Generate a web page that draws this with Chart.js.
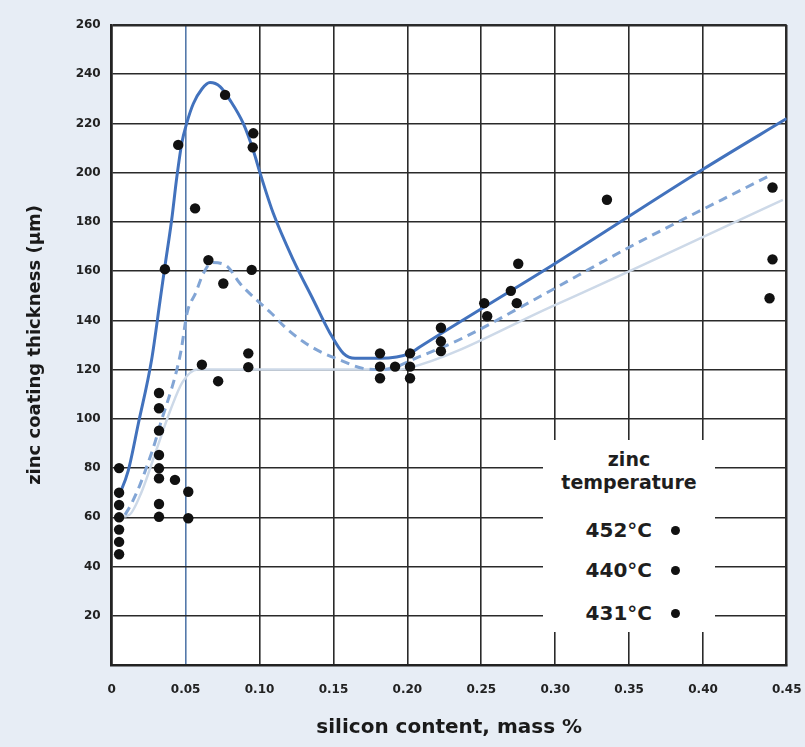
<!DOCTYPE html>
<html><head><meta charset="utf-8">
<script src="https://cdn.jsdelivr.net/npm/chart.js@4.4.1/dist/chart.umd.min.js"></script>
<style>
html,body{margin:0;padding:0;background:#e7edf5;}
#wrap{position:relative;width:805px;height:747px;}
#legend{position:absolute;left:543px;top:440px;width:172px;height:192px;background:#fff;font-family:'DejaVu Sans',sans-serif;font-weight:bold;color:#1e1e1e;}
#legend .h{position:absolute;left:0;width:172px;text-align:center;font-size:19px;line-height:23px;}
#legend .row{position:absolute;left:0;width:109px;text-align:right;font-size:20px;line-height:24px;}
#legend .dot{position:absolute;width:9px;height:9px;border-radius:50%;background:#111;}
</style></head>
<body>
<div id="wrap"><canvas id="c"></canvas>
<div id="legend">
  <div class="h" style="top:8px">zinc</div>
  <div class="h" style="top:31px">temperature</div>
  <div class="row" style="top:78px">452°C</div><div class="dot" style="left:128px;top:86px"></div>
  <div class="row" style="top:118px">440°C</div><div class="dot" style="left:128px;top:126px"></div>
  <div class="row" style="top:161px">431°C</div><div class="dot" style="left:128px;top:169px"></div>
</div>
</div>
<script>
// ---- tick labels ----
const xTickLabels = ['0','0.05','0.10','0.15','0.20','0.25','0.30','0.35','0.40','0.45'];
const yTickLabels = ['20','40','60','80','100','120','140','160','180','200','220','240','260'];
const X_AXIS_END = 0.4566; // right frame of the printed plot (labelled 0.45)

// ---- 452 °C curve (solid) ----
const curve452X = [0.0045,0.0112,0.018,0.027,0.0327,0.036,0.0406,0.044,0.0474,0.0507,0.0552,0.061,0.0665,0.0733,0.08,0.089,0.0958,0.1003,0.1093,0.1229,0.1364,0.1477,0.1567,0.1646,0.1815,0.2018,0.2086,0.297,0.40,0.4566];
const curve452Y = [68,79,98,124,148,162,181,198,212,220,228,234,236.6,235,229.5,220,209,200,183.5,164.5,148.3,134.8,126.6,124.6,124.6,126.6,129.3,162,201.4,222];

// ---- 440 °C curve (dashed) ----
const curve440X = [0.009,0.0135,0.019,0.0237,0.028,0.034,0.0406,0.044,0.047,0.051,0.057,0.0617,0.068,0.078,0.0868,0.098,0.108,0.118,0.1297,0.141,0.1545,0.170,0.183,0.209,0.238,0.29,0.351,0.444];
const curve440Y = [61,65.7,73,80.6,88,100,112.4,119.8,128,143,151.4,158.7,163.5,162,155,148.3,142.9,136.8,131.3,127.3,123.9,120.5,120,125.5,133,149.8,170,198.5];

// ---- 431 °C curve (light) ----
const curve431X = [0.005,0.012,0.02,0.03,0.04,0.048,0.058,0.19,0.2,0.299,0.454];
const curve431Y = [60,61,70,87,104,115,120,120,120.5,146,189];

// ---- measured points ----
const pointsX = [0.005,0.005,0.005,0.005,0.005,0.005,0.005,
  0.032,0.032,0.032,0.032,0.032,0.032,0.032,0.032,
  0.0428,0.0518,0.0518,0.036,0.045,0.0564,0.061,0.0654,0.072,0.0755,0.0767,
  0.0924,0.0924,0.0947,0.0954,0.0958,
  0.1815,0.1815,0.1815,0.1917,0.2018,0.2018,0.2018,
  0.2227,0.2227,0.2227,0.252,0.254,0.27,0.274,0.275,0.335,0.447,0.447,0.445];
const pointsY = [80,70,65,60,55,50,45,
  110.5,104.3,95.2,85.3,79.9,75.8,65.4,60.2,
  75.2,70.4,59.6,160.8,211.3,185.5,122,164.5,115.3,155,231.6,
  126.6,121,160.5,210.3,216,
  126.6,121.2,116.5,121.2,126.6,121.2,116.5,
  137,131.5,127.5,147,141.7,152,147,163,189,194,164.8,149];

const toXY = (xs, ys) => xs.map((x, i) => ({x, y: ys[i]}));

const bgPlugin = {
  id: 'bg',
  beforeDraw(chart) {
    const {ctx, chartArea: a} = chart;
    ctx.save();
    ctx.fillStyle = '#e7edf5';
    ctx.fillRect(0, 0, chart.width, chart.height);
    ctx.fillStyle = '#ffffff';
    ctx.fillRect(a.left, a.top, a.right - a.left, a.bottom - a.top);
    ctx.restore();
  }
};

const lineStyle = {type: 'scatter', showLine: true, pointRadius: 0, pointHoverRadius: 0, cubicInterpolationMode: 'monotone', fill: false};

new Chart(document.getElementById('c'), {
  type: 'scatter',
  data: {
    datasets: [
      {label: 'measured', data: toXY(pointsX, pointsY), pointRadius: 5.2, pointBackgroundColor: '#111', pointBorderWidth: 0, showLine: false},
      Object.assign({label: '452 °C', data: toXY(curve452X, curve452Y), borderColor: '#4272bd', borderWidth: 3}, lineStyle),
      Object.assign({label: '440 °C', data: toXY(curve440X, curve440Y), borderColor: '#82a5d5', borderWidth: 3, borderDash: [9, 6]}, lineStyle),
      Object.assign({label: '431 °C', data: toXY(curve431X, curve431Y), borderColor: '#cdd9e8', borderWidth: 2.5}, lineStyle)
    ]
  },
  options: {
    responsive: true,
    maintainAspectRatio: false,
    animation: false,
    layout: {padding: {top: 25, right: 18.3, left: 0, bottom: 0}},
    plugins: {legend: {display: false}, tooltip: {enabled: false}},
    scales: {
      x: {
        type: 'linear', min: 0, max: X_AXIS_END,
        afterBuildTicks(scale) {
          scale.ticks = xTickLabels.map((l, i) => ({value: i === xTickLabels.length - 1 ? X_AXIS_END : parseFloat(l)}));
        },
        afterFit(scale) { scale.height = 82; scale.paddingLeft = 0; scale.paddingRight = 0; },
        ticks: {
          autoSkip: false, maxRotation: 0, padding: 18, color: '#222',
          font: {family: 'DejaVu Sans', weight: 'bold', size: 12},
          callback: (v, i) => xTickLabels[i]
        },
        grid: {
          drawTicks: false,
          color: ctx => (ctx.tick && Math.abs(ctx.tick.value - 0.05) < 1e-9) ? '#5479aa' : '#2a2a2a',
          lineWidth: ctx => (ctx.tick && ctx.tick.value >= X_AXIS_END - 1e-9) ? 2.5 : 1.6
        },
        border: {display: true, color: '#222', width: 2.5},
        title: {display: true, text: 'silicon content, mass %', color: '#1a1a1a',
          font: {family: 'DejaVu Sans', weight: 'bold', size: 20}, padding: {top: 0, bottom: 7}}
      },
      y: {
        type: 'linear', min: 0, max: 260,
        afterFit(scale) { scale.width = 111.7; scale.paddingTop = 0; scale.paddingBottom = 0; },
        ticks: {
          stepSize: 20, padding: 11, color: '#222',
          font: {family: 'DejaVu Sans', weight: 'bold', size: 12},
          callback: (v, i) => (i === 0 ? '' : yTickLabels[i - 1])
        },
        grid: {
          drawTicks: false, color: '#2a2a2a',
          lineWidth: ctx => (ctx.tick && ctx.tick.value >= 260) ? 2.5 : 1.6
        },
        border: {display: true, color: '#222', width: 2.5},
        title: {display: true, text: 'zinc coating thickness (µm)', color: '#1a1a1a',
          font: {family: 'DejaVu Sans', weight: 'bold', size: 18}, padding: {top: 25, bottom: 0}}
      }
    }
  },
  plugins: [bgPlugin]
});
</script>
</body></html>
